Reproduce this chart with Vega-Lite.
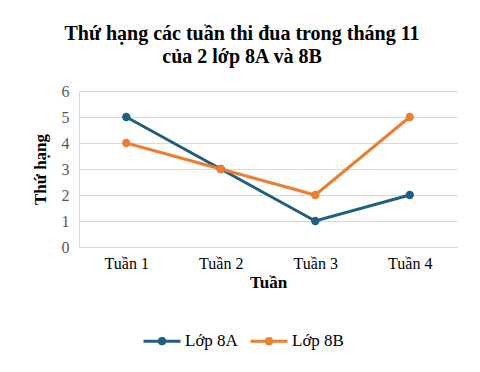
{
  "$schema": "https://vega.github.io/schema/vega-lite/v6.json",
  "autosize": "none",
  "width": 378,
  "height": 156,
  "padding": {"left": 79, "top": 91, "right": 23, "bottom": 125},
  "background": "white",
  "title": {
    "text": ["Thứ hạng các tuần thi đua trong tháng 11", "của 2 lớp 8A và 8B"],
    "font": "Liberation Serif",
    "fontSize": 20,
    "fontWeight": "bold",
    "color": "#000000",
    "anchor": "middle",
    "dx": -26,
    "offset": 16,
    "lineHeight": 23
  },
  "data": {
    "values": [
      {"tuan": "Tuần 1", "lop": "Lớp 8A", "hang": 5},
      {"tuan": "Tuần 2", "lop": "Lớp 8A", "hang": 3},
      {"tuan": "Tuần 3", "lop": "Lớp 8A", "hang": 1},
      {"tuan": "Tuần 4", "lop": "Lớp 8A", "hang": 2},
      {"tuan": "Tuần 1", "lop": "Lớp 8B", "hang": 4},
      {"tuan": "Tuần 2", "lop": "Lớp 8B", "hang": 3},
      {"tuan": "Tuần 3", "lop": "Lớp 8B", "hang": 2},
      {"tuan": "Tuần 4", "lop": "Lớp 8B", "hang": 5}
    ]
  },
  "mark": {"type": "line", "strokeWidth": 3, "point": {"filled": true, "size": 70}},
  "encoding": {
    "x": {
      "field": "tuan", "type": "ordinal", "title": "Tuần",
      "scale": {"type": "point", "padding": 0.5},
      "axis": {"labelAngle": 0, "domainColor": "#d9d9d9", "ticks": false, "labelPadding": 8, "titlePadding": 3}
    },
    "y": {
      "field": "hang", "type": "quantitative", "title": "Thứ hạng",
      "scale": {"domain": [0, 6]},
      "axis": {"values": [0,1,2,3,4,5,6], "labelOverlap": false, "domainColor": "#d9d9d9", "gridColor": "#d9d9d9", "grid": true, "ticks": false, "labelPadding": 10, "labelColor": "#595959", "titlePadding": 12}
    },
    "color": {
      "field": "lop", "type": "nominal", "title": null,
      "scale": {"domain": ["Lớp 8A", "Lớp 8B"], "range": ["#1f5f7f", "#ed7d31"]},
      "legend": {
        "orient": "none", "direction": "horizontal", "legendX": 63, "legendY": 230,
        "symbolType": "M -1 0 L 1 0 M -0.14 0 A 0.14 0.14 0 1 0 0.14 0 A 0.14 0.14 0 1 0 -0.14 0",
        "symbolSize": 1369, "symbolStrokeWidth": 3, "columnPadding": 6, "labelOffset": 3,
        "labelFont": "Liberation Serif", "labelFontSize": 17, "labelColor": "#000000", "labelLimit": 200
      }
    }
  },
  "config": {
    "font": "Liberation Serif",
    "view": {"stroke": null},
    "style": {"guide-label": {"font": "Liberation Serif"}},
    "legend": {"labelFont": "Liberation Serif"},
    "axis": {"labelFont": "Liberation Serif", "labelFontSize": 16, "labelColor": "#000000", "titleFont": "Liberation Serif", "titleFontSize": 17, "titleFontWeight": "bold", "titleColor": "#000000"}
  }
}
